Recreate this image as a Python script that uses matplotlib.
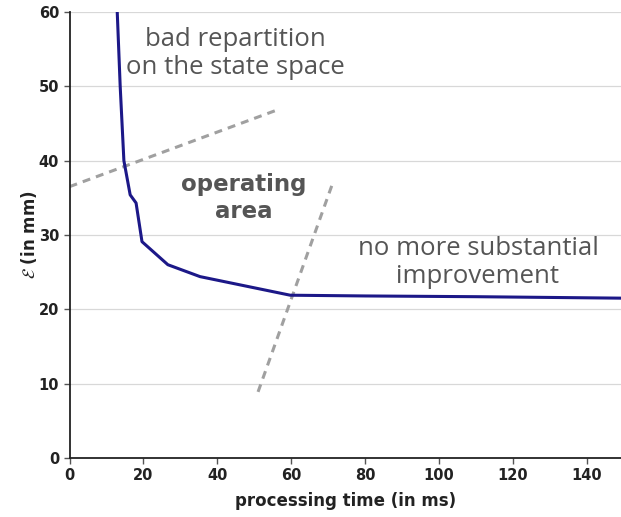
import matplotlib.pyplot as plt
import numpy as np

# error curve
time_ms = [12.9, 13.7, 14.7, 16.4, 18.0, 19.6, 26.6, 35.3, 59.7, 80, 110, 150]
error_mm = [60, 50, 40, 35.4, 34.3, 29.1, 26.0, 24.4, 21.9, 21.8, 21.7, 21.5]

# dashed separators
sep1_x = [0, 56.1]
sep1_y = [36.5, 46.8]
sep2_x = [51.0, 71.0]
sep2_y = [8.9, 36.7]

xticks = [0, 20, 40, 60, 80, 100, 120, 140]
yticks = [0, 10, 20, 30, 40, 50, 60]

fig = plt.figure(figsize=(6.21, 5.17), dpi=100)
ax = fig.add_axes([0.112, 0.114, 0.888, 0.863])

ax.set_xlim(0, 149.2)
ax.set_ylim(0, 60)
ax.set_xticks(xticks)
ax.set_yticks(yticks)
ax.yaxis.grid(True, color='#d8d8d8', linewidth=0.9)
ax.set_axisbelow(True)

for s in ['top', 'right']:
    ax.spines[s].set_visible(False)
for s in ['left', 'bottom']:
    ax.spines[s].set_color('#222222')
    ax.spines[s].set_linewidth(1.3)

ax.tick_params(length=4, width=1, color='#555555', labelsize=10.5, labelcolor='#222222')
for lbl in ax.get_xticklabels() + ax.get_yticklabels():
    lbl.set_fontweight('bold')

ax.plot(sep1_x, sep1_y, linestyle='--', color='#a0a0a0', linewidth=2.2, dashes=(2.6, 2))
ax.plot(sep2_x, sep2_y, linestyle='--', color='#a0a0a0', linewidth=2.2, dashes=(2.6, 2))
ax.plot(time_ms, error_mm, color='#1c1888', linewidth=2.2)

ax.text(45, 54.4, 'bad repartition\non the state space', ha='center', va='center',
        fontsize=18.5, color='#555555', family='Open Sans', linespacing=1.2)
ax.text(47, 35.0, 'operating\narea', ha='center', va='center',
        fontsize=16.5, color='#555555', family='DejaVu Sans', fontweight='bold', linespacing=1.2)
ax.text(110.5, 26.3, 'no more substantial\nimprovement', ha='center', va='center',
        fontsize=18.5, color='#555555', family='Open Sans', linespacing=1.2)

ax.set_xlabel('processing time (in ms)', fontsize=12, fontweight='bold', color='#222222', labelpad=6)
ax.set_ylabel(r'$\mathcal{E}$ (in mm)', fontsize=12, fontweight='bold', color='#222222', labelpad=0)

fig.savefig('out.png', dpi=100)
